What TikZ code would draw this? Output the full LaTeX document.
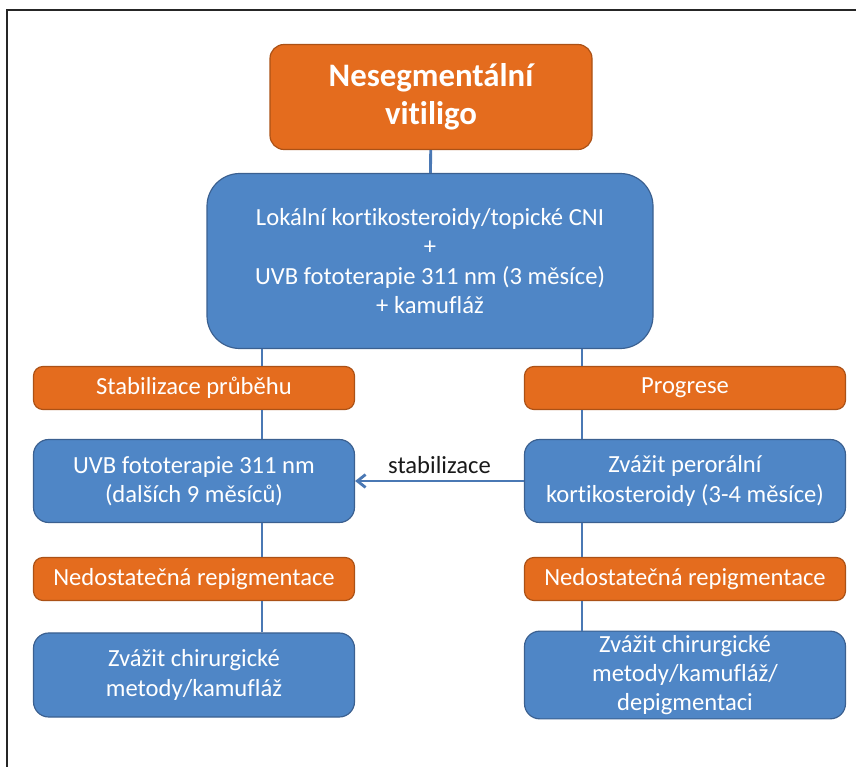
\documentclass[tikz,border=0pt]{standalone}
\usepackage{fontspec}
\setmainfont[Ligatures=CommonOff]{Carlito}
\usepackage{tikz}
\usetikzlibrary{calc,arrows.meta}
\usepackage[dvipsnames]{xcolor}
\definecolor{boxorange}{HTML}{E46C1E}
\definecolor{boxblue}{HTML}{4F86C6}
\definecolor{edgeblue}{HTML}{4A78B4}

\begin{document}
\begin{tikzpicture}[x=0.03cm,y=-0.03cm,
    txt/.style={font=\fontsize{21}{25}\selectfont,text=white,align=center},
    obox/.style={txt,fill=boxorange,draw=boxorange!75!black,line width=1pt,
      rounded corners=8pt,minimum width=321*0.03cm,minimum height=43*0.03cm},
    bbox/.style={txt,fill=boxblue,draw=edgeblue!80!black,line width=1pt,
      rounded corners=13pt,minimum width=321*0.03cm,minimum height=83*0.03cm},
    link/.style={draw=edgeblue,line width=2.4pt}]
  \def\xl{194}
  \def\xr{685}

  % frame
  \useasboundingbox (0,0) rectangle (856,767);
  \draw[line width=1.6pt,black!85] (7,767) -- (7,10) -- (856,10);

  \node[obox,rounded corners=12pt,minimum width=322*0.03cm,minimum height=105*0.03cm,
    font=\fontsize{28}{32}\selectfont\bfseries] (nsv) at (431, 97) {Nesegmentální\\vitiligo};
  \node[bbox,rounded corners=28pt,minimum width=446*0.03cm,minimum height=175*0.03cm]
    (loc) at (430, 261) {Lokální kortikosteroidy/topické CNI\\+\\UVB fototerapie 311 nm (3 měsíce)\\+ kamufláž};

  \node[obox] (stab) at (\xl, 388) {Stabilizace průběhu};
  \node[obox] (prog) at (\xr, 388) {Progrese};

  \node[bbox] (uvb)  at (\xl, 481) {UVB fototerapie 311 nm\\(dalších 9 měsíců)};
  \node[bbox] (oral) at (\xr, 481) {Zvážit perorální\\kortikosteroidy (3-4 měsíce)};

  \node[obox] (nedl) at (\xl, 579) {Nedostatečná repigmentace};
  \node[obox] (nedr) at (\xr, 579) {Nedostatečná repigmentace};

  \node[bbox,minimum height=84*0.03cm] (chl) at (\xl, 675) {Zvážit chirurgické\\metody/kamufláž};
  \node[bbox,minimum height=84*0.03cm] (chr) at (\xr, 675) {Zvážit chirurgické\\metody/kamufláž/\\depigmentaci};

  \coordinate (cl) at (262, 0);
  \coordinate (cr) at (582, 0);

  \draw[link] (nsv) -- (loc);

  \draw[link] (loc.south -| cl) -- (stab.north -| cl);
  \draw[link] (stab.south -| cl) -- (uvb.north -| cl);
  \draw[link] (uvb.south -| cl) -- (nedl.north -| cl);
  \draw[link] (nedl.south -| cl) -- (chl.north -| cl);

  \draw[link] (loc.south -| cr) -- (prog.north -| cr);
  \draw[link] (prog.south -| cr) -- (oral.north -| cr);
  \draw[link] (oral.south -| cr) -- (nedr.north -| cr);
  \draw[link] (nedr.south -| cr) -- (chr.north -| cr);

  \draw[link,-{Straight Barb[length=7pt,width=11pt]}] (oral.west) -- node[above=2pt,text=black!90,font=\fontsize{21}{25}\selectfont] (lab) {stabilizace} (uvb.east);
\end{tikzpicture}
\end{document}
